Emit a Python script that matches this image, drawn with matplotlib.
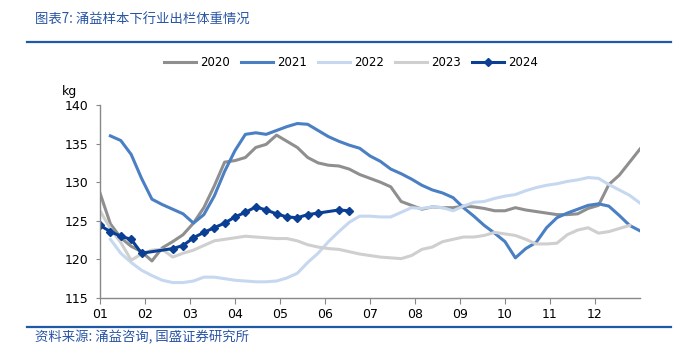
import numpy as np
import matplotlib
matplotlib.use("Agg")
import matplotlib.pyplot as plt
from matplotlib.lines import Line2D

plt.rcParams['font.family'] = ['DejaVu Sans', 'Noto Sans CJK SC']

# data: weekly slaughter weight (kg), week 0..52
nan = np.nan
weeks = np.arange(53)
y2020 = [128.6, 124.6, 122.8, 121.7, 121.0, 119.8, 121.5, 122.3, 123.2, 124.7,
         126.7, 129.5, 132.6, 132.8, 133.2, 134.5, 134.9, 136.1, 135.3, 134.5,
         133.2, 132.5, 132.2, 132.1, 131.7, 131.0, 130.5, 130.0, 129.4, 127.5,
         127.0, 126.5, 126.8, 126.7, 126.7, 126.9, 126.8, 126.6, 126.3, 126.3,
         126.7, 126.4, 126.2, 126.0, 125.8, 125.8, 125.9, 126.6, 127.0, 129.7,
         130.9, 132.6, 134.3]
y2021 = [nan, 136.0, 135.4, 133.6, 130.5, 127.8, 127.1, 126.5, 125.9, 124.7,
         125.8, 128.2, 131.4, 134.1, 136.2, 136.4, 136.2, 136.7, 137.2, 137.6,
         137.5, 136.7, 135.9, 135.3, 134.8, 134.4, 133.4, 132.7, 131.7, 131.1,
         130.4, 129.6, 129.0, 128.6, 128.0, 126.7, 125.6, 124.4, 123.4, 122.3,
         120.2, 121.4, 122.2, 124.1, 125.4, 126.0, 126.5, 127.0, 127.2, 126.9,
         125.7, 124.4, 123.7]
y2022 = [nan, 122.6, 120.8, 119.6, 118.6, 117.9, 117.3, 117.0, 117.0, 117.2,
         117.7, 117.7, 117.5, 117.3, 117.2, 117.1, 117.1, 117.2, 117.6, 118.2,
         119.6, 120.8, 122.3, 123.6, 124.8, 125.6, 125.6, 125.5, 125.5, 126.1,
         126.7, 126.6, 126.8, 126.7, 126.3, 126.9, 127.4, 127.5, 127.9, 128.2,
         128.4, 128.9, 129.3, 129.6, 129.8, 130.1, 130.3, 130.6, 130.5, 129.7,
         129.0, 128.3, 127.3]
y2023 = [126.3, 124.0, 122.2, 119.9, 120.7, 121.2, 121.3, 120.3, 120.8, 121.2,
         121.8, 122.4, 122.6, 122.8, 123.0, 122.9, 122.8, 122.7, 122.7, 122.4,
         121.9, 121.6, 121.4, 121.3, 121.0, 120.7, 120.5, 120.3, 120.2, 120.1,
         120.5, 121.3, 121.6, 122.3, 122.6, 122.9, 122.9, 123.1, 123.5, 123.3,
         123.1, 122.6, 122.0, 122.0, 122.1, 123.2, 123.8, 124.1, 123.4, 123.6,
         124.0, 124.4, nan]
weeks_2024 = [0, 1, 2, 3, 4, 7, 8, 9, 10, 11, 12, 13, 14, 15, 16, 17, 18, 19,
              20, 21, 23, 24]
y2024 = [124.4, 123.6, 123.0, 122.6, 120.8, 121.4, 121.8, 122.8, 123.5, 124.1,
         124.7, 125.5, 126.1, 126.8, 126.4, 125.9, 125.5, 125.4, 125.8, 126.0,
         126.4, 126.3]
months = ['01', '02', '03', '04', '05', '06', '07', '08', '09', '10', '11', '12']

blue_txt = '#2a55a5'

fig = plt.figure(figsize=(6.94, 3.62), dpi=100)
ax = fig.add_axes([100/694, 64/362, 540/694, 193/362])

ax.plot(weeks, y2020, color='#8f8f8f', lw=2.2, label='2020')
ax.plot(weeks, y2021, color='#4a7fc4', lw=2.2, label='2021')
ax.plot(weeks, y2022, color='#c6d8ef', lw=2.2, label='2022')
ax.plot(weeks, y2023, color='#cfcfcf', lw=2.2, label='2023')
ax.plot(weeks_2024, y2024, color='#0b3f94', lw=2.2, marker='D', ms=4.5,
        label='2024')

ax.set_xlim(0, 52)
ax.set_ylim(115, 140)
ax.set_yticks(np.arange(115, 141, 5))
ax.set_xticks(np.arange(12) * 52 / 12)
ax.set_xticklabels(months)

for s in ['top', 'right']:
    ax.spines[s].set_visible(False)
for s in ['left', 'bottom']:
    ax.spines[s].set_color('#888888')
    ax.spines[s].set_linewidth(1)
ax.tick_params(axis='both', colors='#888888', labelcolor='black', labelsize=9,
               direction='out')
ax.tick_params(axis='y', length=3, pad=5)
ax.tick_params(axis='x', length=4, pad=3)

fig.text(62/694, 1 - 92/362, 'kg', fontsize=9, va='center', ha='left')

fig.legend(loc='center', bbox_to_anchor=(0.506, 1 - 63/362), ncol=5,
           frameon=False, fontsize=8.5, handlelength=2.7, handletextpad=0.4,
           columnspacing=0.9)

# header / footer
fig.text(35/694, 1 - 20/362, '图表7: 涌益样本下行业出栏体重情况',
         family=['Noto Sans CJK SC'], fontsize=9.6, style='italic',
         color=blue_txt, va='center')
fig.add_artist(Line2D([27/694, 671/694], [1 - 42/362, 1 - 42/362],
                      color='#1f5aa6', lw=1.6))
fig.add_artist(Line2D([27/694, 671/694], [1 - 327/362, 1 - 327/362],
                      color='#1f5aa6', lw=1.6))
fig.text(35/694, 1 - 337/362, '资料来源: 涌益咨询, 国盛证券研究所',
         family=['Noto Sans CJK SC'], fontsize=9.6, style='italic',
         color=blue_txt, va='center')

fig.savefig('out.png', dpi=100)
